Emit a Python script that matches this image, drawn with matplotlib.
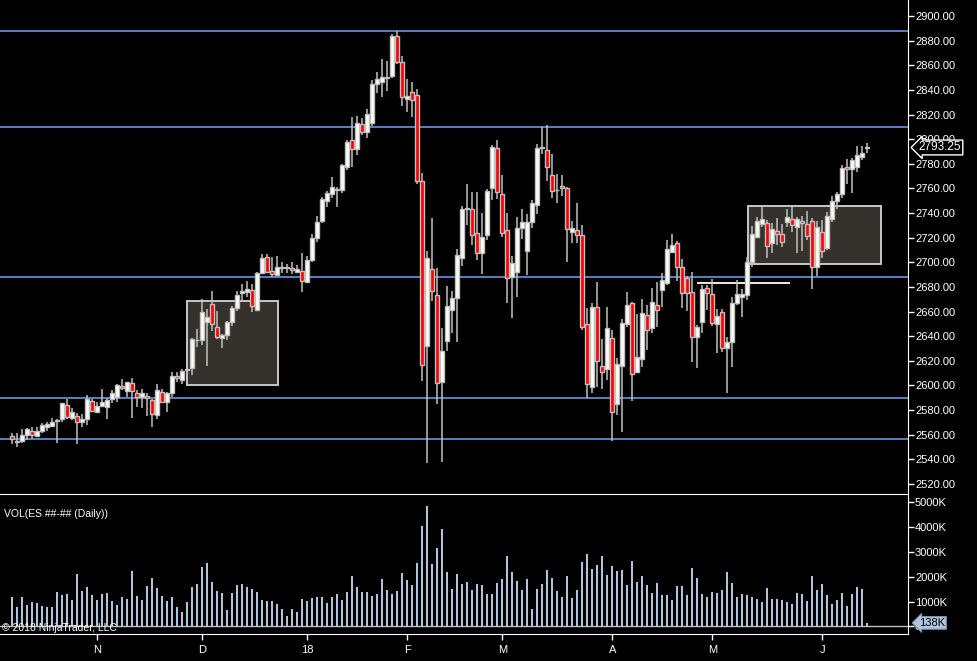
import matplotlib
matplotlib.use('Agg')
import matplotlib.pyplot as plt
import matplotlib.ticker as ticker
import matplotlib.transforms as mtransforms
from matplotlib.patches import Rectangle
import numpy as np

plt.rcParams['font.family'] = ['Liberation Sans', 'DejaVu Sans']

# ES daily bars, Oct 2017 - Jun 2018
opens = [
    2559.3, 2554.5, 2554.6, 2559.5, 2563.3, 2559.0, 2563.3, 2566.6, 2567.4, 2571.2,
    2572.5, 2583.9, 2573.3, 2575.5, 2570.6, 2572.5, 2587.1, 2578.7, 2583.6, 2582.8,
    2588.8, 2590.9, 2599.3, 2595.5, 2602.3, 2593.6, 2590.9, 2591.2, 2588.0, 2575.8,
    2595.0, 2586.9, 2593.6, 2607.4, 2604.2, 2612.3, 2613.9, 2636.7, 2636.9, 2651.8,
    2665.9, 2647.2, 2638.3, 2641.2, 2651.3, 2663.2, 2674.8, 2676.2, 2677.2, 2661.3,
    2691.6, 2704.0, 2693.2, 2690.0, 2695.4, 2695.6, 2695.6, 2692.4, 2693.3, 2683.8,
    2702.2, 2719.5, 2733.9, 2750.1, 2755.5, 2759.0, 2759.0, 2777.7, 2799.1, 2791.8,
    2812.1, 2806.1, 2812.9, 2844.5, 2846.7, 2849.9, 2851.6, 2883.5, 2862.4, 2832.6,
    2838.0, 2835.6, 2765.8, 2632.4, 2694.3, 2673.2, 2602.6, 2636.4, 2661.6, 2671.3,
    2703.8, 2743.3, 2743.0, 2723.5, 2707.3, 2721.9, 2760.1, 2792.5, 2755.2, 2726.5,
    2687.8, 2691.9, 2727.6, 2708.9, 2732.5, 2746.3, 2792.8, 2790.9, 2770.6, 2758.4,
    2761.7, 2760.1, 2724.9, 2726.5, 2721.9, 2649.7, 2598.5, 2663.5, 2616.1, 2613.1,
    2638.3, 2584.7, 2615.9, 2649.7, 2666.8, 2610.7, 2621.3, 2657.5, 2646.5, 2665.1,
    2677.3, 2683.0, 2708.2, 2715.5, 2696.0, 2687.0, 2675.7, 2639.1, 2651.9, 2678.9,
    2674.1, 2649.7, 2659.4, 2630.2, 2635.1, 2666.8, 2671.6, 2673.5, 2700.0, 2720.3,
    2730.8, 2732.2, 2715.4, 2725.7, 2722.7, 2732.4, 2734.9, 2728.4, 2733.5, 2730.8,
    2733.3, 2696.5, 2724.3, 2711.3, 2734.9, 2750.0, 2755.2, 2777.6, 2775.5, 2777.1,
    2785.2, 2793.0,
]
highs = [
    2561.2, 2561.7, 2564.4, 2565.5, 2566.6, 2566.6, 2569.3, 2570.6, 2573.3, 2572.5,
    2586.0, 2588.8, 2581.4, 2577.4, 2576.8, 2592.0, 2588.8, 2586.9, 2597.1, 2589.6,
    2596.3, 2601.2, 2605.0, 2603.1, 2606.1, 2596.3, 2597.1, 2593.6, 2588.8, 2601.2,
    2597.1, 2595.0, 2611.2, 2610.7, 2613.6, 2613.9, 2638.8, 2645.6, 2670.2, 2661.8,
    2676.7, 2660.5, 2641.8, 2652.6, 2664.5, 2677.0, 2682.4, 2684.8, 2682.4, 2691.9,
    2706.7, 2706.5, 2704.0, 2705.1, 2700.0, 2698.6, 2700.0, 2697.8, 2707.3, 2705.2,
    2722.8, 2737.9, 2752.8, 2758.2, 2769.0, 2760.9, 2779.9, 2799.3, 2818.0, 2818.8,
    2816.9, 2824.2, 2848.1, 2854.3, 2865.1, 2863.5, 2885.4, 2887.8, 2867.5, 2848.9,
    2846.2, 2840.7, 2772.6, 2709.2, 2736.3, 2695.7, 2647.0, 2680.8, 2676.7, 2710.8,
    2746.0, 2763.6, 2757.1, 2757.1, 2740.0, 2759.5, 2795.2, 2799.3, 2770.9, 2740.0,
    2705.1, 2737.1, 2743.3, 2739.5, 2750.6, 2795.8, 2810.1, 2811.5, 2787.9, 2771.7,
    2770.9, 2761.4, 2733.5, 2748.2, 2730.3, 2663.2, 2667.3, 2684.3, 2637.8, 2664.0,
    2645.1, 2622.6, 2653.8, 2675.9, 2668.1, 2658.1, 2670.3, 2665.4, 2678.9, 2684.3,
    2691.6, 2718.2, 2723.0, 2717.6, 2702.5, 2688.9, 2691.9, 2649.2, 2681.6, 2681.6,
    2686.2, 2661.9, 2661.9, 2639.7, 2671.6, 2685.7, 2678.1, 2704.6, 2729.5, 2736.5,
    2745.2, 2734.3, 2731.6, 2735.7, 2731.1, 2743.3, 2745.2, 2736.5, 2737.6, 2741.6,
    2735.7, 2733.8, 2734.3, 2741.1, 2753.8, 2757.3, 2779.3, 2784.1, 2785.0, 2794.7,
    2794.7, 2796.8,
]
lows = [
    2552.5, 2550.3, 2553.6, 2555.7, 2556.3, 2557.9, 2561.7, 2563.3, 2566.0, 2553.6,
    2570.6, 2572.5, 2572.0, 2552.5, 2566.6, 2567.9, 2578.7, 2577.4, 2582.8, 2573.1,
    2585.5, 2586.9, 2596.3, 2590.9, 2573.9, 2582.8, 2581.4, 2575.2, 2566.6, 2572.8,
    2585.5, 2578.5, 2590.9, 2603.1, 2600.9, 2611.2, 2608.5, 2631.0, 2632.9, 2615.8,
    2644.5, 2637.7, 2630.7, 2636.9, 2648.6, 2660.5, 2667.8, 2672.1, 2659.9, 2660.5,
    2690.5, 2691.0, 2687.8, 2689.4, 2691.0, 2691.0, 2690.2, 2691.0, 2676.2, 2683.0,
    2700.6, 2716.8, 2732.2, 2745.2, 2752.0, 2745.2, 2756.6, 2775.0, 2777.7, 2787.2,
    2803.4, 2800.7, 2811.0, 2837.2, 2834.5, 2839.1, 2849.9, 2860.8, 2827.2, 2821.8,
    2818.3, 2763.9, 2603.7, 2537.4, 2668.6, 2585.0, 2538.2, 2628.0, 2642.4, 2635.6,
    2697.3, 2730.3, 2714.1, 2701.9, 2690.5, 2718.1, 2750.6, 2751.1, 2720.8, 2667.3,
    2655.1, 2672.1, 2718.9, 2689.7, 2728.1, 2739.2, 2787.7, 2766.3, 2751.9, 2748.4,
    2754.1, 2700.5, 2716.0, 2715.4, 2645.1, 2589.6, 2594.2, 2599.1, 2596.9, 2604.5,
    2555.2, 2576.1, 2562.6, 2647.8, 2587.7, 2609.9, 2615.3, 2628.9, 2642.9, 2647.8,
    2664.0, 2681.6, 2707.3, 2684.9, 2663.2, 2660.8, 2619.4, 2614.5, 2642.9, 2661.3,
    2648.3, 2626.7, 2627.5, 2594.2, 2615.3, 2665.4, 2655.9, 2669.4, 2696.5, 2719.5,
    2728.9, 2703.8, 2707.8, 2714.0, 2712.2, 2728.9, 2724.9, 2707.8, 2709.4, 2718.1,
    2678.3, 2689.1, 2703.2, 2710.0, 2733.0, 2743.0, 2751.9, 2763.6, 2756.0, 2773.6,
    2783.0, 2789.0,
]
closes = [
    2556.3, 2554.75, 2559.5, 2564.4, 2560.1, 2563.3, 2567.6, 2568.5, 2570.6, 2571.7,
    2585.5, 2574.7, 2578.2, 2570.1, 2572.5, 2589.3, 2579.6, 2583.6, 2586.3, 2588.0,
    2593.6, 2600.1, 2598.0, 2602.5, 2595.2, 2590.4, 2593.6, 2589.6, 2576.6, 2596.1,
    2586.9, 2593.6, 2607.7, 2605.8, 2612.0, 2613.1, 2637.5, 2637.2, 2659.4, 2655.3,
    2649.6, 2639.6, 2640.7, 2651.3, 2662.6, 2673.2, 2676.7, 2678.1, 2664.8, 2691.0,
    2703.2, 2692.4, 2690.2, 2696.5, 2695.5, 2695.8, 2694.0, 2694.3, 2684.6, 2701.7,
    2719.5, 2732.5, 2751.5, 2756.0, 2760.9, 2759.6, 2778.8, 2797.4, 2792.0, 2812.9,
    2805.6, 2820.2, 2844.5, 2848.6, 2850.2, 2850.1, 2883.5, 2862.4, 2834.0, 2835.3,
    2831.8, 2765.8, 2616.4, 2703.3, 2677.0, 2601.8, 2628.0, 2664.5, 2671.0, 2705.9,
    2743.0, 2743.8, 2722.5, 2707.3, 2720.3, 2757.6, 2793.4, 2756.8, 2723.5, 2687.0,
    2699.2, 2727.6, 2733.0, 2732.5, 2747.9, 2792.5, 2793.4, 2777.1, 2757.6, 2759.0,
    2760.1, 2726.8, 2727.6, 2722.2, 2647.2, 2601.0, 2663.5, 2619.6, 2610.7, 2646.4,
    2578.2, 2617.2, 2650.5, 2665.1, 2609.1, 2622.9, 2658.6, 2645.1, 2667.6, 2661.3,
    2685.4, 2710.6, 2713.8, 2696.5, 2674.9, 2674.9, 2639.1, 2647.8, 2678.1, 2674.9,
    2650.5, 2656.5, 2630.8, 2635.1, 2666.8, 2674.1, 2674.0, 2700.0, 2722.7, 2733.5,
    2734.9, 2713.0, 2726.8, 2722.7, 2716.8, 2736.5, 2730.3, 2734.9, 2731.6, 2721.6,
    2695.9, 2728.4, 2708.9, 2737.3, 2749.8, 2755.2, 2776.3, 2776.0, 2783.0, 2786.8,
    2788.5, 2793.25,
]
# daily volume, thousands of contracts
volumes = [
    1183, 780, 1183, 860, 981, 941, 820, 780, 780, 1384,
    1263, 1304, 1062, 2110, 1425, 1586, 1263, 1062, 1304, 1344,
    1021, 860, 1183, 1102, 2231, 1223, 1062, 1626, 1949, 1546,
    1223, 1021, 1183, 780, 578, 981, 1586, 1707, 2392, 2554,
    1788, 1425, 1344, 659, 1344, 1667, 1707, 1586, 1505, 1384,
    1062, 1021, 1021, 900, 699, 417, 699, 578, 1102, 1021,
    1142, 1183, 1183, 941, 1183, 1304, 1062, 1384, 2029, 1586,
    1384, 1384, 1223, 1304, 1908, 1465, 1304, 1425, 2150, 1868,
    1667, 2554, 4045, 4852, 2513, 3158, 3924, 2191, 1505, 2110,
    1707, 1788, 1465, 1707, 1667, 1304, 1304, 1747, 1908, 2836,
    2191, 1828, 1465, 1908, 699, 1505, 1707, 2271, 1949, 1425,
    1183, 2029, 1142, 1465, 2594, 2916, 2312, 2473, 2836, 2070,
    2433, 2231, 2271, 1667, 2634, 1788, 2029, 1667, 1344, 1747,
    1263, 1263, 1062, 1626, 1626, 1263, 2352, 1949, 1304, 1183,
    1384, 1344, 1465, 2191, 1747, 1183, 1304, 1263, 1183, 1102,
    981, 1546, 1102, 1102, 1062, 981, 900, 1344, 1304, 1021,
    2029, 1465, 1707, 1263, 900, 1062, 1344, 820, 1304, 1586,
    1505, 138,
]

# month labels and the bar index where each month starts
month_labels = ['N', 'D', '18', 'F', 'M', 'A', 'M', 'J']
month_starts = [17, 38, 59, 79, 98, 120, 140, 162]

# drawn objects: horizontal levels, zones (x0, x1, lo, hi), one short line
levels = [2887.5, 2810.25, 2687.75, 2589.75, 2556.5]
zones = [(35.0, 53.1, 2600.1, 2668.3), (147.2, 173.8, 2698.3, 2745.4)]
short_line = (137.0, 155.5, 2683.0)

BG = '#000000'
FG = '#ffffff'
WICK = '#c0c0c0'
UP = '#fffff8'
DOWN = '#ff0000'
LEVEL = '#6495ed'
VOLC = '#b0c4de'

o = np.array(opens)
h = np.array(highs)
l = np.array(lows)
c = np.array(closes)
v = np.array(volumes)
x = np.arange(len(o))

fig = plt.figure(figsize=(9.78, 6.61), dpi=100, facecolor=BG)
W, H = 978, 661
ax = fig.add_axes([0, 1 - 493 / H, 908 / W, 493 / H], facecolor=BG)
axv = fig.add_axes([0, 27 / H, 908 / W, 140 / H], facecolor=BG)

xlim = (-2.46, 179.14)

# --- price panel ---
for lv in levels:
    ax.axhline(lv, color=LEVEL, lw=1.2, zorder=1)

for x0, x1, lo, hi in zones:
    ax.add_patch(Rectangle((x0, lo), x1 - x0, hi - lo, facecolor='#35312d',
                           edgecolor='#c8c8c8', lw=1.4, zorder=2))

ax.hlines(short_line[2], short_line[0], short_line[1], color='#fffff0', lw=1.3, zorder=2)

ax.vlines(x, l, h, color=WICK, lw=1.1, zorder=3)
up = c >= o
body_lo = np.minimum(o, c)
body_h = np.maximum(np.abs(c - o), 0.6)
ax.bar(x[up], body_h[up], bottom=body_lo[up], width=0.82, color=UP,
       edgecolor=WICK, lw=1.0, zorder=4)
ax.bar(x[~up], body_h[~up], bottom=body_lo[~up], width=0.82, color=DOWN,
       edgecolor=WICK, lw=1.0, zorder=4)

ax.set_xlim(*xlim)
ax.set_ylim(2512.7, 2913.0)
ax.set_xticks([])
ax.yaxis.tick_right()
ax.yaxis.set_major_locator(ticker.MultipleLocator(20))
ax.yaxis.set_major_formatter(ticker.FuncFormatter(lambda val, _p: f'{val:.2f}'))
ax.tick_params(axis='y', colors=FG, labelcolor=FG, length=4, width=1,
               labelsize=8, pad=1)
for side in ['left', 'top', 'bottom']:
    ax.spines[side].set_visible(False)
ax.spines['right'].set_color(FG)

# last price marker
tr = mtransforms.blended_transform_factory(ax.transAxes, ax.transData)
ax.text(1.012, c[-1], f'{c[-1]:.2f}', transform=tr, ha='left', va='center',
        fontsize=8.5, color=FG, zorder=6, clip_on=False,
        bbox=dict(boxstyle='larrow,pad=0.12', fc=BG, ec=FG, lw=1))

# --- volume panel ---
axv.axhline(0, color='#c0c0c0', lw=1, zorder=1)
axv.bar(x, v, width=0.4, color=VOLC, zorder=2)
axv.set_xlim(*xlim)
axv.set_ylim(-310, 5335)
axv.yaxis.tick_right()
axv.set_yticks([0, 1000, 2000, 3000, 4000, 5000])
axv.yaxis.set_major_formatter(ticker.FuncFormatter(
    lambda val, _p: '0' if val == 0 else f'{int(val)}K'))
axv.tick_params(axis='y', colors=FG, labelcolor=FG, length=4, width=1,
                labelsize=8, pad=1)
axv.set_xticks(month_starts)
axv.set_xticklabels(month_labels)
axv.tick_params(axis='x', colors=FG, labelcolor=FG, length=4, width=1,
                labelsize=8, pad=4)
axv.spines['left'].set_visible(False)
for side in ['right', 'top', 'bottom']:
    axv.spines[side].set_color(FG)

trv = mtransforms.blended_transform_factory(axv.transAxes, axv.transData)
axv.text(1.012, v[-1], f'{v[-1]}K', transform=trv, ha='left', va='center',
         fontsize=8, color='#000000', zorder=6, clip_on=False,
         bbox=dict(boxstyle='larrow,pad=0.12', fc=VOLC, ec='#7890a8', lw=0.8))

axv.text(0.004, 0.86, 'VOL(ES ##-## (Daily))', transform=axv.transAxes,
         ha='left', va='center', fontsize=7.5, color=FG)
axv.text(0.002, 0.04, '\u00a9 2018 NinjaTrader, LLC', transform=axv.transAxes,
         ha='left', va='center', fontsize=7.5, color=FG, zorder=5)

fig.savefig('out.png', dpi=100, facecolor=BG)
